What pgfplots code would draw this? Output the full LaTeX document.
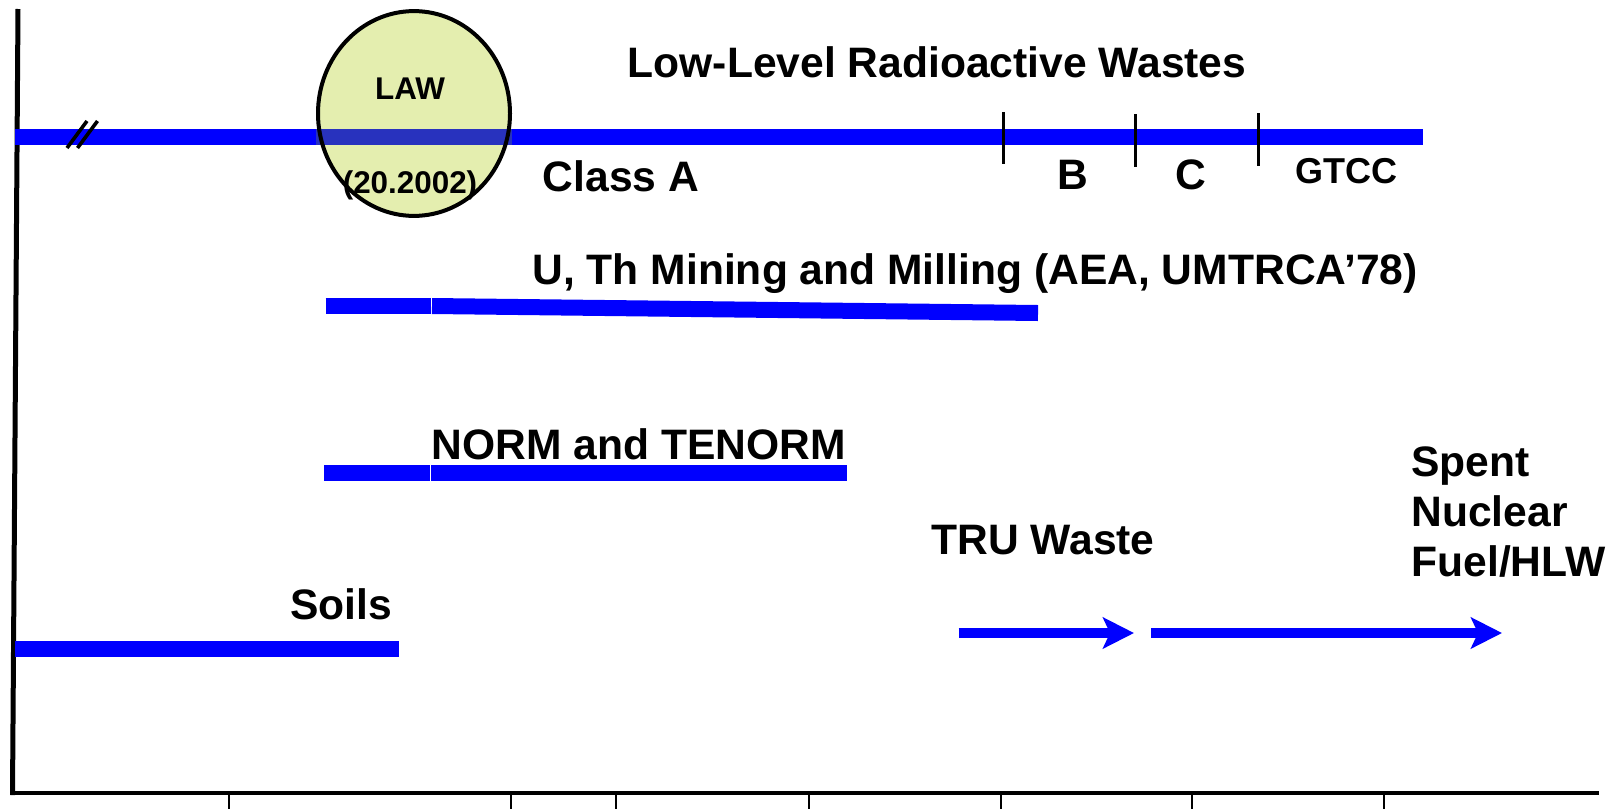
\documentclass[border=0pt]{standalone}
\usepackage{fontspec}
\setmainfont{Liberation Sans}
\usepackage{pgfplots}
\pgfplotsset{compat=1.18}
\usetikzlibrary{arrows.meta}
\definecolor{lawfill}{RGB}{228,238,175}
\definecolor{lawbar}{RGB}{40,50,190}
\newcommand{\bigf}{\fontsize{21.3}{25}\selectfont\bfseries}
\newcommand{\smallf}{\fontsize{15.7}{18}\selectfont\bfseries}
\begin{document}
\begin{tikzpicture}
\begin{axis}[
  at={(0,0)}, anchor=south west,
  scale only axis, width=794.5pt, height=392pt,
  xmin=10, xmax=1599, ymin=9, ymax=793, y dir=reverse,
  hide axis, clip=false,
  every axis plot/.append style={line cap=butt},
]
% axes
\addplot[black, line width=2.5pt] coordinates {(12.5,795) (18,9)};
\addplot[black, line width=2.4pt] coordinates {(10,793) (1599,793)};
\pgfplotsinvokeforeach{228.7,510.9,616,808.5,1001,1192,1384}{
  \addplot[black, line width=1pt] coordinates {(#1,794) (#1,809)};
}
% Low-level waste bar
\addplot[blue, line width=8pt] coordinates {(15,137) (1423,137)};
\fill[lawfill] (axis cs:414,113.5) ellipse[x radius=48.5pt, y radius=51.7pt];
\addplot[lawbar, line width=8pt] coordinates {(316,137) (512,137)};
\draw[black, line width=2pt] (axis cs:414,113.5) ellipse[x radius=48pt, y radius=51.2pt];
% break marks
\addplot[black, line width=1.8pt] coordinates {(67,148) (87,121)};
\addplot[black, line width=1.8pt] coordinates {(77.5,148) (97.5,121)};
% class dividers
\addplot[black, line width=1.5pt] coordinates {(1003,112) (1003,164)};
\addplot[black, line width=1.5pt] coordinates {(1135,114) (1135,167)};
\addplot[black, line width=1.5pt] coordinates {(1258,113) (1258,166)};
% U, Th mining bars
\addplot[blue, line width=8pt] coordinates {(325.5,306) (430.5,306)};
\addplot[blue, line width=8pt] coordinates {(432,306) (1038,313)};
% NORM bars
\addplot[blue, line width=8pt] coordinates {(324,473) (429.5,473)};
\addplot[blue, line width=8pt] coordinates {(431,473) (847,473)};
% Soils
\addplot[blue, line width=8pt] coordinates {(15,649) (399,649)};
% arrows
\addplot[blue, line width=5.25pt, -{Stealth[length=15.5pt, width=15.5pt, inset=3.5pt]}] coordinates {(958.5,633) (1134,633)};
\addplot[blue, line width=5.25pt, -{Stealth[length=15.5pt, width=15.5pt, inset=3.5pt]}] coordinates {(1151,633) (1502,633)};
% labels
\node[anchor=base, font=\bigf] at (axis cs:937,77) {Low-Level Radioactive Wastes};
\node[anchor=base, font=\smallf] at (axis cs:410,99) {LAW};
\node[anchor=base, font=\smallf] at (axis cs:410,193) {(20.2002)};
\node[anchor=base, font=\bigf] at (axis cs:621,191) {Class A};
\node[anchor=base, font=\bigf] at (axis cs:1073,189) {B};
\node[anchor=base, font=\bigf] at (axis cs:1191,189) {C};
\node[anchor=base, font=\fontsize{18}{21}\selectfont\bfseries] at (axis cs:1346,183) {GTCC};
\node[anchor=base, font=\bigf] at (axis cs:975,284) {U, Th Mining and Milling (AEA, UMTRCA’78)};
\node[anchor=base, font=\bigf] at (axis cs:639,459) {NORM and TENORM};
\node[anchor=base, font=\bigf] at (axis cs:1043,554) {TRU Waste};
\node[anchor=base, font=\bigf] at (axis cs:341,619) {Soils};
\node[anchor=base west, font=\bigf, inner sep=0pt] at (axis cs:1411,476) {Spent};
\node[anchor=base west, font=\bigf, inner sep=0pt] at (axis cs:1411,526) {Nuclear};
\node[anchor=base west, font=\bigf, inner sep=0pt] at (axis cs:1411,576) {Fuel/HLW};
\end{axis}
\pgfresetboundingbox
\path[use as bounding box] (-5pt,-8pt) rectangle (802.5pt,396.5pt);
\end{tikzpicture}
\end{document}
